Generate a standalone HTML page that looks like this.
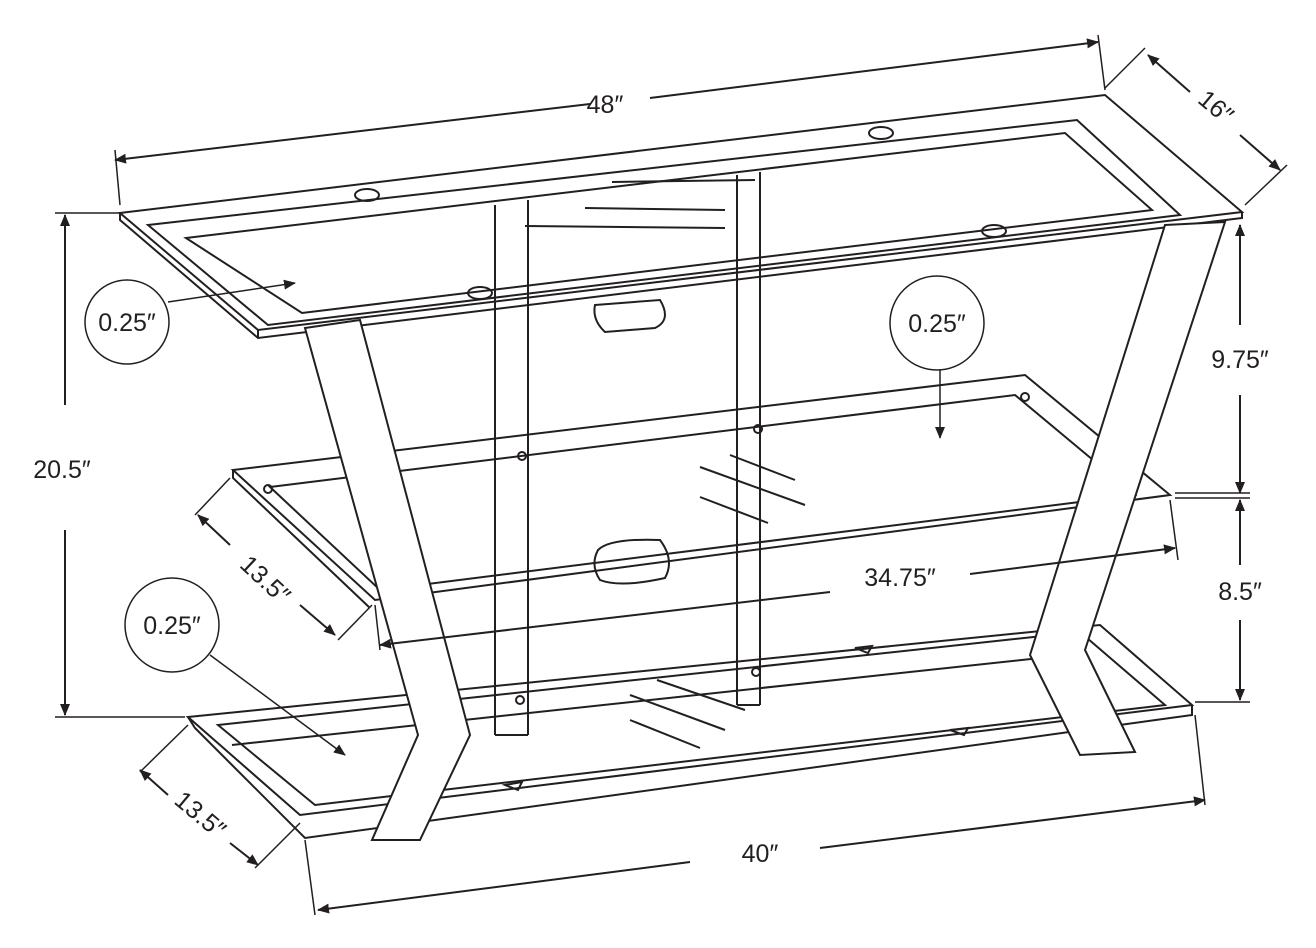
<!DOCTYPE html>
<html><head><meta charset="utf-8"><style>
html,body{margin:0;padding:0;background:#fff}
svg{display:block}
text{font-family:"Liberation Sans",sans-serif;font-size:25px;fill:#231f20}
</style></head><body>
<svg width="1316" height="948" viewBox="0 0 1316 948" xmlns="http://www.w3.org/2000/svg">
<defs><marker id="a" markerWidth="12" markerHeight="10" refX="11" refY="5" orient="auto-start-reverse" markerUnits="userSpaceOnUse"><path d="M0,0 L12,5 L0,10 z" fill="#231f20"/></marker></defs>
<g fill="none" stroke="#231f20" stroke-width="2">
<!-- posts -->
<line x1="495" y1="205" x2="495" y2="735"/><line x1="528" y1="200" x2="528" y2="735"/>
<line x1="737" y1="175" x2="737" y2="705"/><line x1="760" y1="172" x2="760" y2="705"/>
<line x1="495" y1="735" x2="528" y2="735"/><line x1="737" y1="705" x2="760" y2="705"/>
<!-- top shelf -->
<polygon points="120,213 1105,95 1242,212 258,330" fill="#fff" fill-opacity="0.0"/>
<polyline points="120,213 120,220 258,338 1242,218 1242,212"/>
<line x1="258" y1="330" x2="258" y2="338"/>
<polygon points="148,225 1077,120 1180,215 268,325"/>
<polygon points="186,238 1065,133 1152,210 302,313"/>
<line x1="612" y1="182" x2="755" y2="180"/><line x1="585" y1="208" x2="725" y2="210"/><line x1="525" y1="226" x2="725" y2="228"/>
<ellipse cx="367" cy="195" rx="12" ry="6"/><ellipse cx="881" cy="133" rx="12" ry="6"/><ellipse cx="994" cy="231" rx="12" ry="6"/><ellipse cx="480" cy="293" rx="12" ry="6"/>
<path d="M595,305 L660,300 Q672,320 655,328 L605,332 Q592,320 595,305z"/>
<!-- middle shelf -->
<polygon points="233,470 1025,375 1170,495 375,600"/>
<polyline points="233,470 233,478 370,608"/>
<polygon points="270,487 1015,395 1135,495 380,590"/>
<circle cx="522" cy="456" r="4"/><circle cx="758" cy="429" r="4"/><circle cx="268" cy="489" r="4"/><circle cx="1025" cy="397" r="4"/>
<line x1="700" y1="467" x2="805" y2="505"/><line x1="730" y1="455" x2="795" y2="480"/><line x1="700" y1="497" x2="768" y2="523"/>
<path d="M598,550 Q610,538 660,540 Q675,560 665,578 Q620,588 600,580 Q590,565 598,550z"/>
<!-- bottom shelf -->
<polygon points="188,717 1100,625 1192,705 300,815"/>
<polyline points="188,717 195,728 305,838 1192,715 1192,705"/>
<polygon points="218,725 1080,632 1165,705 315,805"/>
<line x1="232" y1="745" x2="1040" y2="658"/>
<circle cx="520" cy="700" r="4"/><circle cx="756" cy="672" r="4"/>
<line x1="630" y1="695" x2="725" y2="730"/><line x1="657" y1="680" x2="745" y2="710"/><line x1="630" y1="720" x2="700" y2="748"/>
<path d="M505,785 L522,782 L518,790z"/><path d="M950,730 L968,728 L964,735z"/><path d="M855,648 L872,646 L868,653z"/>
<!-- left leg -->
<polygon points="305,328 360,320 470,735 420,840 372,840 418,735" fill="#fff"/>
<!-- right leg -->
<polygon points="1165,225 1225,222 1085,650 1135,752 1080,755 1030,655" fill="#fff"/>
<!-- dimension lines -->
<line x1="115" y1="150" x2="120" y2="205" stroke-width="1.5"/><line x1="1098" y1="35" x2="1105" y2="90" stroke-width="1.5"/>
<line x1="115" y1="160" x2="590" y2="104" marker-start="url(#a)"/><line x1="650" y1="98" x2="1098" y2="42" marker-end="url(#a)"/>
<line x1="1105" y1="88" x2="1145" y2="48" stroke-width="1.5"/><line x1="1245" y1="205" x2="1287" y2="165" stroke-width="1.5"/>
<line x1="1148" y1="55" x2="1190" y2="92" marker-start="url(#a)"/><line x1="1240" y1="135" x2="1280" y2="170" marker-end="url(#a)"/>
<line x1="55" y1="213" x2="120" y2="213" stroke-width="1.5"/><line x1="55" y1="717" x2="185" y2="717" stroke-width="1.5"/>
<line x1="65" y1="215" x2="65" y2="405" marker-start="url(#a)"/><line x1="65" y1="530" x2="65" y2="715" marker-end="url(#a)"/>
<line x1="1240" y1="225" x2="1240" y2="325" marker-start="url(#a)"/><line x1="1240" y1="395" x2="1240" y2="493" marker-end="url(#a)"/>
<line x1="1175" y1="493" x2="1250" y2="493" stroke-width="1.5"/><line x1="1175" y1="498" x2="1250" y2="498" stroke-width="1.5"/>
<line x1="1240" y1="500" x2="1240" y2="565" marker-start="url(#a)"/><line x1="1240" y1="620" x2="1240" y2="700" marker-end="url(#a)"/>
<line x1="1195" y1="702" x2="1250" y2="702" stroke-width="1.5"/>
<line x1="1170" y1="500" x2="1178" y2="560" stroke-width="1.5"/>
<line x1="380" y1="645" x2="830" y2="592" marker-start="url(#a)"/><line x1="970" y1="574" x2="1175" y2="548" marker-end="url(#a)"/>
<line x1="375" y1="605" x2="380" y2="650" stroke-width="1.5"/>
<line x1="230" y1="478" x2="195" y2="515" stroke-width="1.5"/><line x1="372" y1="605" x2="338" y2="640" stroke-width="1.5"/>
<line x1="198" y1="515" x2="230" y2="545" marker-start="url(#a)"/><line x1="300" y1="605" x2="335" y2="635" marker-end="url(#a)"/>
<line x1="188" y1="725" x2="140" y2="772" stroke-width="1.5"/><line x1="300" y1="823" x2="255" y2="868" stroke-width="1.5"/>
<line x1="140" y1="770" x2="168" y2="795" marker-start="url(#a)"/><line x1="230" y1="843" x2="258" y2="865" marker-end="url(#a)"/>
<line x1="305" y1="840" x2="315" y2="915" stroke-width="1.5"/><line x1="1195" y1="715" x2="1205" y2="805" stroke-width="1.5"/>
<line x1="318" y1="910" x2="690" y2="862" marker-start="url(#a)"/><line x1="820" y1="848" x2="1205" y2="800" marker-end="url(#a)"/>
<!-- callouts -->
<circle cx="127" cy="322" r="42" stroke-width="1.5"/><circle cx="937" cy="323" r="47" stroke-width="1.5"/><circle cx="172" cy="625" r="47" stroke-width="1.5"/>
<line x1="168" y1="302" x2="295" y2="283" stroke-width="1.5" marker-end="url(#a)"/>
<line x1="940" y1="370" x2="940" y2="438" stroke-width="1.5" marker-end="url(#a)"/>
<line x1="210" y1="655" x2="345" y2="755" stroke-width="1.5" marker-end="url(#a)"/>
</g>
<text x="605" y="113" text-anchor="middle">48″</text>
<text x="1215" y="115" text-anchor="middle" transform="rotate(40 1215 108)">16″</text>
<text x="62" y="478" text-anchor="middle">20.5″</text>
<text x="1240" y="368" text-anchor="middle">9.75″</text>
<text x="1240" y="600" text-anchor="middle">8.5″</text>
<text x="900" y="586" text-anchor="middle">34.75″</text>
<text x="265" y="588" text-anchor="middle" transform="rotate(43 265 580)">13.5″</text>
<text x="200" y="823" text-anchor="middle" transform="rotate(40 200 815)">13.5″</text>
<text x="760" y="862" text-anchor="middle">40″</text>
<text x="127" y="331" text-anchor="middle">0.25″</text>
<text x="937" y="332" text-anchor="middle">0.25″</text>
<text x="172" y="634" text-anchor="middle">0.25″</text>
</svg>
</body></html>
